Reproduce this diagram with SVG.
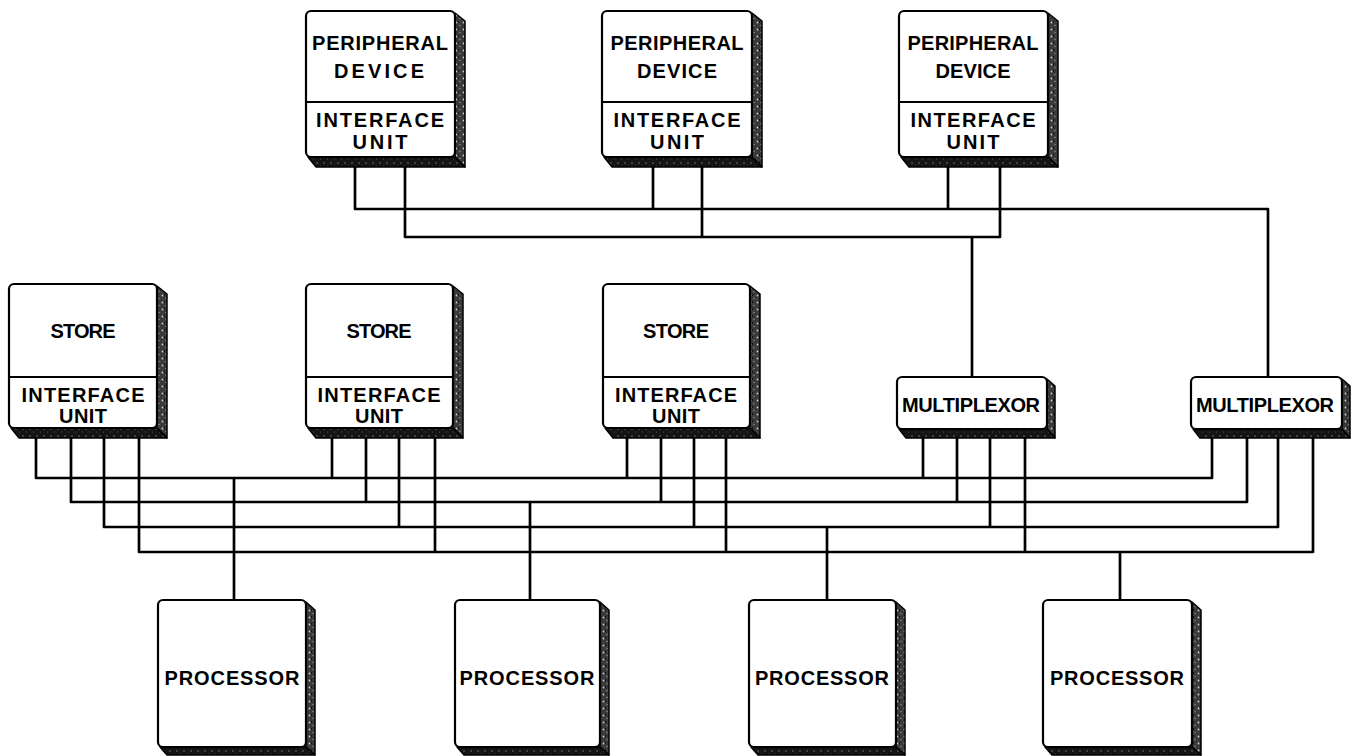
<svg xmlns="http://www.w3.org/2000/svg" width="1357" height="756" viewBox="0 0 1357 756">
<defs>
<pattern id="spkL" width="7" height="7" patternUnits="userSpaceOnUse">
<rect width="7" height="7" fill="#3a3a3a"/>
<circle cx="1.5" cy="1.5" r="0.9" fill="#cfcfcf"/>
<circle cx="5" cy="4.5" r="0.7" fill="#999"/>
<rect x="3" y="0" width="1" height="2" fill="#111"/>
</pattern>
<pattern id="spkD" width="7" height="7" patternUnits="userSpaceOnUse">
<rect width="7" height="7" fill="#141414"/>
<circle cx="2" cy="2" r="0.7" fill="#8a8a8a"/>
<circle cx="5.5" cy="5" r="0.5" fill="#666"/>
</pattern>
</defs>
<style>
.box{fill:#fff;stroke:#000;stroke-width:2.2}
.shR{fill:url(#spkL);stroke:#000;stroke-width:1.5;stroke-linejoin:round}
.shB{fill:url(#spkD);stroke:#000;stroke-width:1.5;stroke-linejoin:round}
.div{stroke:#000;stroke-width:1.8}
.lbl{font-family:"Liberation Sans",Arial,sans-serif;font-weight:bold;font-size:20px;text-anchor:middle;fill:#000}
.wire{fill:none;stroke:#000;stroke-width:2.7;stroke-linejoin:round;stroke-linecap:butt}
</style>

<g id="connectors">
<path class="wire" d="M355,167 V209 H1268 V377"/>
<path class="wire" d="M653,167 V209"/>
<path class="wire" d="M948,167 V209"/>
<path class="wire" d="M405,167 V237 H1000 V167"/>
<path class="wire" d="M702,167 V237"/>
<path class="wire" d="M972,237 V377"/>
<path class="wire" d="M36,438 V478 H1212 V438"/>
<path class="wire" d="M332,438 V478"/>
<path class="wire" d="M627,438 V478"/>
<path class="wire" d="M923,438 V478"/>
<path class="wire" d="M234,478 V600"/>
<path class="wire" d="M71,438 V502 H1247 V438"/>
<path class="wire" d="M366,438 V502"/>
<path class="wire" d="M661,438 V502"/>
<path class="wire" d="M957,438 V502"/>
<path class="wire" d="M530,502 V600"/>
<path class="wire" d="M104,438 V527 H1278 V438"/>
<path class="wire" d="M399,438 V527"/>
<path class="wire" d="M694,438 V527"/>
<path class="wire" d="M990,438 V527"/>
<path class="wire" d="M827,527 V600"/>
<path class="wire" d="M139,438 V552 H1313 V438"/>
<path class="wire" d="M435,438 V552"/>
<path class="wire" d="M726,438 V552"/>
<path class="wire" d="M1025,438 V552"/>
<path class="wire" d="M1120,552 V600"/>
</g>

<g id="periph1">
<polygon class="shR" points="455,13 465,21 465,167 455,157"/>
<polygon class="shB" points="308,157 316,167 465,167 455,157"/>
<rect class="box" x="306" y="11" width="149" height="146" rx="5"/>
<line class="div" x1="306" y1="102" x2="455" y2="102"/>
<text class="lbl" x="380" y="50" textLength="136" lengthAdjust="spacing">PERIPHERAL</text>
<text class="lbl" x="379" y="78" textLength="90" lengthAdjust="spacing">DEVICE</text>
<text class="lbl" x="380" y="127" textLength="128" lengthAdjust="spacing">INTERFACE</text>
<text class="lbl" x="380" y="149" textLength="55" lengthAdjust="spacing">UNIT</text>
</g>
<g id="periph2">
<polygon class="shR" points="752,13 762,21 762,167 752,157"/>
<polygon class="shB" points="604,157 612,167 762,167 752,157"/>
<rect class="box" x="602" y="11" width="150" height="146" rx="5"/>
<line class="div" x1="602" y1="102" x2="752" y2="102"/>
<text class="lbl" x="677" y="50" textLength="133" lengthAdjust="spacing">PERIPHERAL</text>
<text class="lbl" x="677" y="78" textLength="80" lengthAdjust="spacing">DEVICE</text>
<text class="lbl" x="677" y="127" textLength="127" lengthAdjust="spacing">INTERFACE</text>
<text class="lbl" x="677" y="149" textLength="54" lengthAdjust="spacing">UNIT</text>
</g>
<g id="periph3">
<polygon class="shR" points="1048,13 1058,21 1058,167 1048,157"/>
<polygon class="shB" points="901,157 909,167 1058,167 1048,157"/>
<rect class="box" x="899" y="11" width="149" height="146" rx="5"/>
<line class="div" x1="899" y1="102" x2="1048" y2="102"/>
<text class="lbl" x="973" y="50" textLength="131" lengthAdjust="spacing">PERIPHERAL</text>
<text class="lbl" x="973" y="78" textLength="75" lengthAdjust="spacing">DEVICE</text>
<text class="lbl" x="973" y="127" textLength="125" lengthAdjust="spacing">INTERFACE</text>
<text class="lbl" x="973" y="149" textLength="53" lengthAdjust="spacing">UNIT</text>
</g>

<g id="store1">
<polygon class="shR" points="157,286 167,294 167,438 157,428"/>
<polygon class="shB" points="11,428 19,438 167,438 157,428"/>
<rect class="box" x="9" y="284" width="148" height="144" rx="5"/>
<line class="div" x1="9" y1="377" x2="157" y2="377"/>
<text class="lbl" x="83" y="338" textLength="65" lengthAdjust="spacing">STORE</text>
<text class="lbl" x="83" y="402" textLength="123" lengthAdjust="spacing">INTERFACE</text>
<text class="lbl" x="83" y="423" textLength="48" lengthAdjust="spacing">UNIT</text>
</g>
<g id="store2">
<polygon class="shR" points="453,286 463,294 463,438 453,428"/>
<polygon class="shB" points="308,428 316,438 463,438 453,428"/>
<rect class="box" x="306" y="284" width="147" height="144" rx="5"/>
<line class="div" x1="306" y1="377" x2="453" y2="377"/>
<text class="lbl" x="379" y="338" textLength="65" lengthAdjust="spacing">STORE</text>
<text class="lbl" x="379" y="402" textLength="123" lengthAdjust="spacing">INTERFACE</text>
<text class="lbl" x="379" y="423" textLength="48" lengthAdjust="spacing">UNIT</text>
</g>
<g id="store3">
<polygon class="shR" points="750,286 760,294 760,438 750,428"/>
<polygon class="shB" points="605,428 613,438 760,438 750,428"/>
<rect class="box" x="603" y="284" width="147" height="144" rx="5"/>
<line class="div" x1="603" y1="377" x2="750" y2="377"/>
<text class="lbl" x="676" y="338" textLength="66" lengthAdjust="spacing">STORE</text>
<text class="lbl" x="676" y="402" textLength="122" lengthAdjust="spacing">INTERFACE</text>
<text class="lbl" x="676" y="423" textLength="48" lengthAdjust="spacing">UNIT</text>
</g>

<g id="mux1">
<polygon class="shR" points="1047,379 1055,386 1055,438 1047,429"/>
<polygon class="shB" points="899,429 906,438 1055,438 1047,429"/>
<rect class="box" x="897" y="377" width="150" height="52" rx="5"/>
<text class="lbl" x="971" y="412" textLength="138" lengthAdjust="spacing">MULTIPLEXOR</text>
</g>
<g id="mux2">
<polygon class="shR" points="1342,379 1350,386 1350,438 1342,429"/>
<polygon class="shB" points="1193,429 1200,438 1350,438 1342,429"/>
<rect class="box" x="1191" y="377" width="151" height="52" rx="5"/>
<text class="lbl" x="1265" y="412" textLength="138" lengthAdjust="spacing">MULTIPLEXOR</text>
</g>

<g id="proc1">
<polygon class="shR" points="306,602 315,610 315,755 306,747"/>
<polygon class="shB" points="160,747 167,755 315,755 306,747"/>
<rect class="box" x="158" y="600" width="148" height="147" rx="5"/>
<text class="lbl" x="232" y="685" textLength="135" lengthAdjust="spacing">PROCESSOR</text>
</g>
<g id="proc2">
<polygon class="shR" points="600,602 609,610 609,755 600,747"/>
<polygon class="shB" points="457,747 464,755 609,755 600,747"/>
<rect class="box" x="455" y="600" width="145" height="147" rx="5"/>
<text class="lbl" x="527" y="685" textLength="135" lengthAdjust="spacing">PROCESSOR</text>
</g>
<g id="proc3">
<polygon class="shR" points="896,602 905,610 905,755 896,747"/>
<polygon class="shB" points="751,747 758,755 905,755 896,747"/>
<rect class="box" x="749" y="600" width="147" height="147" rx="5"/>
<text class="lbl" x="822" y="685" textLength="134" lengthAdjust="spacing">PROCESSOR</text>
</g>
<g id="proc4">
<polygon class="shR" points="1192,602 1201,610 1201,755 1192,747"/>
<polygon class="shB" points="1045,747 1052,755 1201,755 1192,747"/>
<rect class="box" x="1043" y="600" width="149" height="147" rx="5"/>
<text class="lbl" x="1117" y="685" textLength="134" lengthAdjust="spacing">PROCESSOR</text>
</g>
</svg>
